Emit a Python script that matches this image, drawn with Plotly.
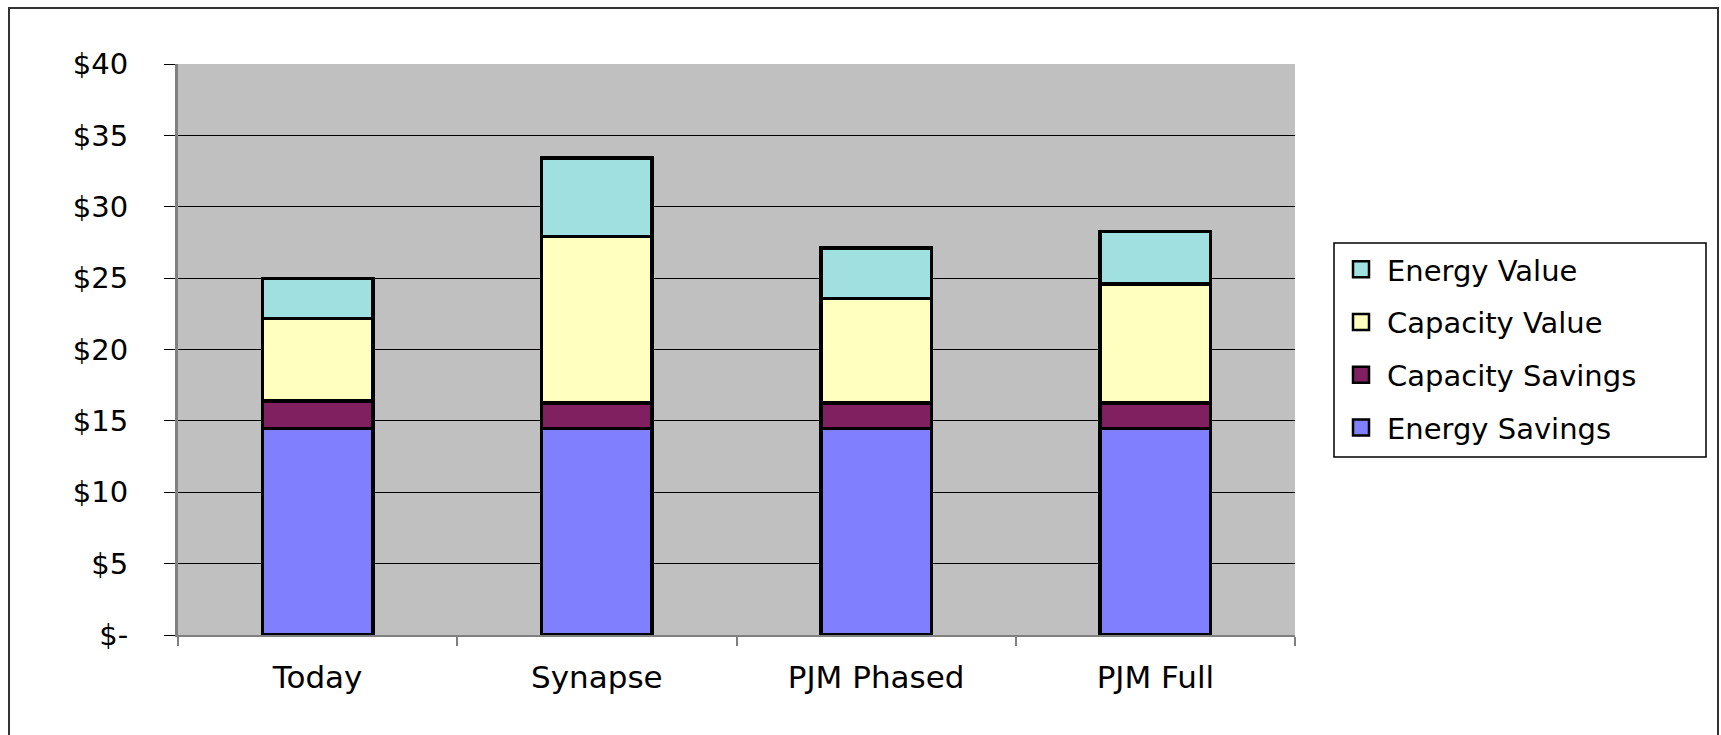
import plotly.graph_objects as go

categories = ["Today", "Synapse", "PJM Phased", "PJM Full"]
energy_savings = [14.45, 14.45, 14.45, 14.45]
capacity_savings = [1.95, 1.8, 1.8, 1.8]
capacity_value = [5.78, 11.67, 7.31, 8.34]
energy_value = [2.78, 5.51, 3.55, 3.68]

series = [
    ("Energy Savings", energy_savings, "#8080FF", 4),
    ("Capacity Savings", capacity_savings, "#802060", 3),
    ("Capacity Value", capacity_value, "#FFFFC0", 2),
    ("Energy Value", energy_value, "#A0E0E0", 1),
]

tick_vals = [0, 5, 10, 15, 20, 25, 30, 35, 40]
tick_text = ["$-", "$5", "$10", "$15", "$20", "$25", "$30", "$35", "$40"]

FONT = "DejaVu Sans, Arial, sans-serif"

fig = go.Figure()
for name, vals, color, rank in series:
    fig.add_trace(go.Bar(
        x=categories, y=vals, name=name, legendgroup=name, showlegend=False,
        marker=dict(color=color, line=dict(color="black", width=3.5)),
    ))
# legend entries with larger square swatches
for name, vals, color, rank in series:
    fig.add_trace(go.Scatter(
        x=[None], y=[None], mode="markers", name=name, legendgroup=name, legendrank=rank,
        marker=dict(symbol="square", size=16, color=color, line=dict(color="black", width=2.5)),
        hoverinfo="skip",
    ))

W, H = 1721, 735
ml, mr, mt, mb = 178, 426, 64, 100
pw = W - ml - mr
ph = H - mt - mb


def px_x(v):
    return (v - ml) / pw


def px_y(v):
    return (H - mb - v) / ph


fig.update_layout(
    width=W, height=H,
    barmode="stack", bargap=0.604,
    margin=dict(l=ml, r=mr, t=mt, b=mb, pad=0),
    paper_bgcolor="white", plot_bgcolor="#C0C0C0",
    font=dict(family=FONT, color="black", size=29),
    legend=dict(
        traceorder="grouped", tracegroupgap=12, itemwidth=42,
        x=px_x(1335), y=px_y(244), xanchor="left", yanchor="top",
        borderwidth=0, bgcolor="rgba(0,0,0,0)",
        font=dict(family=FONT, size=29, color="black"),
    ),
    xaxis=dict(
        showline=True, linecolor="#808080", linewidth=2,
        ticks="outside", tickson="boundaries", ticklen=9, tickcolor="#808080", tickwidth=2,
        tickfont=dict(size=31), showgrid=False, ticklabelstandoff=14,
    ),
    yaxis=dict(
        range=[0, 40], tickvals=tick_vals, ticktext=tick_text,
        showline=True, linecolor="#808080", linewidth=3,
        ticks="outside", ticklen=11, tickcolor="black", tickwidth=1,
        showgrid=True, gridcolor="black", gridwidth=1,
        ticklabelstandoff=30, zeroline=False,
        tickfont=dict(size=29),
    ),
    shapes=[
        dict(
            type="rect", xref="paper", yref="paper",
            x0=px_x(9), x1=px_x(1718), y0=px_y(740), y1=px_y(8),
            line=dict(color="#333333", width=2), fillcolor="rgba(0,0,0,0)", layer="below",
        ),
        dict(
            type="rect", xref="paper", yref="paper",
            x0=px_x(1334), x1=px_x(1706), y0=px_y(457), y1=px_y(243),
            line=dict(color="black", width=1.5), fillcolor="white", layer="below",
        ),
    ],
)

fig.write_html("out.html", config={"displayModeBar": False},
               post_script="document.body.style.margin='0';document.body.style.overflow='hidden';")
